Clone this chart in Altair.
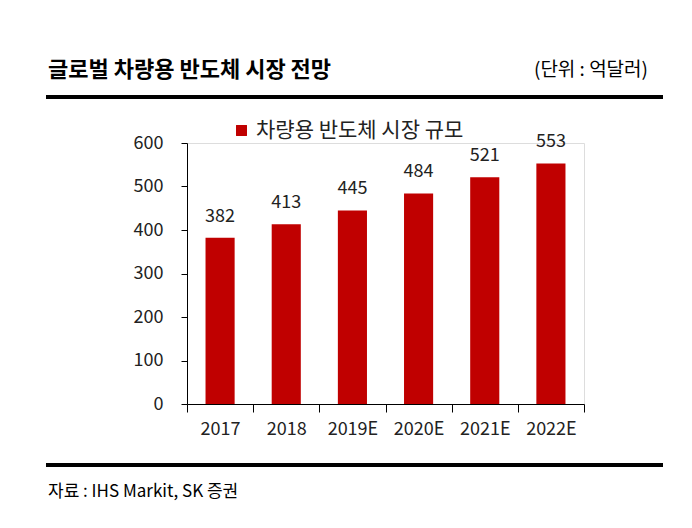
import altair as alt
import pandas as pd

years = ["2017", "2018", "2019E", "2020E", "2021E", "2022E"]
values = [382, 413, 445, 484, 521, 553]
series = "차량용 반도체 시장 규모"
title_text = "글로벌 차량용 반도체 시장 전망"
unit_text = "(단위 :  억달러)"
source_text = "자료 : IHS Markit, SK 증권"

df = pd.DataFrame({"year": years, "value": values, "series": [series] * len(years)})

FONT = "Noto Sans CJK KR"
RED = "#C00000"

x = alt.X("year:N", sort=years, title=None,
          scale=alt.Scale(paddingInner=0, paddingOuter=0),
          axis=alt.Axis(labelAngle=0, tickBand="extent", tickSize=8, labelPadding=8,
                        labelFontSize=18, labelColor="#222", domainColor="#000",
                        tickColor="#000", labelFont=FONT))
y = alt.Y("value:Q", title=None,
          scale=alt.Scale(domain=[0, 600], nice=False),
          axis=alt.Axis(values=[0, 100, 200, 300, 400, 500, 600], grid=False, tickSize=6,
                        labelPadding=18, labelFontSize=18, labelColor="#222",
                        domainColor="#000", tickColor="#000", labelFont=FONT))

base = alt.Chart(df)

bars = base.mark_bar(color=RED, width=alt.RelativeBandSize(0.44)).encode(
    x=x, y=y,
    color=alt.Color("series:N", scale=alt.Scale(range=[RED]),
                    legend=alt.Legend(title=None, orient="none", legendX=44, legendY=-23,
                                      symbolType="square", symbolSize=120,
                                      symbolStrokeWidth=0, labelFontSize=21,
                                      labelFont=FONT, labelColor="#222",
                                      labelOffset=4, labelLimit=500)),
)

labels = base.mark_text(dy=-12, baseline="bottom", fontSize=18, font=FONT, color="#222").encode(
    x=alt.X("year:N", sort=years), y="value:Q", text="value:Q"
)

title = alt.Chart(pd.DataFrame({"t": [title_text]})).mark_text(
    align="left", baseline="middle", fontSize=22, fontWeight="bold", font=FONT, color="#000"
).encode(x=alt.value(-139), y=alt.value(-73), text="t:N")

unit = alt.Chart(pd.DataFrame({"t": [unit_text]})).mark_text(
    align="right", baseline="middle", fontSize=19, font=FONT, color="#000"
).encode(x=alt.value(461), y=alt.value(-73), text="t:N")

source = alt.Chart(pd.DataFrame({"t": [source_text]})).mark_text(
    align="left", baseline="middle", fontSize=17, font=FONT, color="#000"
).encode(x=alt.value(-139), y=alt.value(349), text="t:N")

top_rule = alt.Chart(pd.DataFrame({"a": [0]})).mark_rule(color="#000", strokeWidth=4).encode(
    x=alt.value(-141), x2=alt.value(476), y=alt.value(-46))
bottom_rule = alt.Chart(pd.DataFrame({"a": [0]})).mark_rule(color="#000", strokeWidth=4).encode(
    x=alt.value(-141), x2=alt.value(476), y=alt.value(322))

chart = alt.layer(bars, labels, title, unit, source, top_rule, bottom_rule).properties(
    width=397, height=261,
    autosize=alt.AutoSizeParams(type="none"),
    padding={"left": 179, "top": 135, "right": 100, "bottom": 116},
).configure_view(stroke=None).configure(background="white")

chart.save("out.html", embed_options={"renderer": "svg", "actions": False})
